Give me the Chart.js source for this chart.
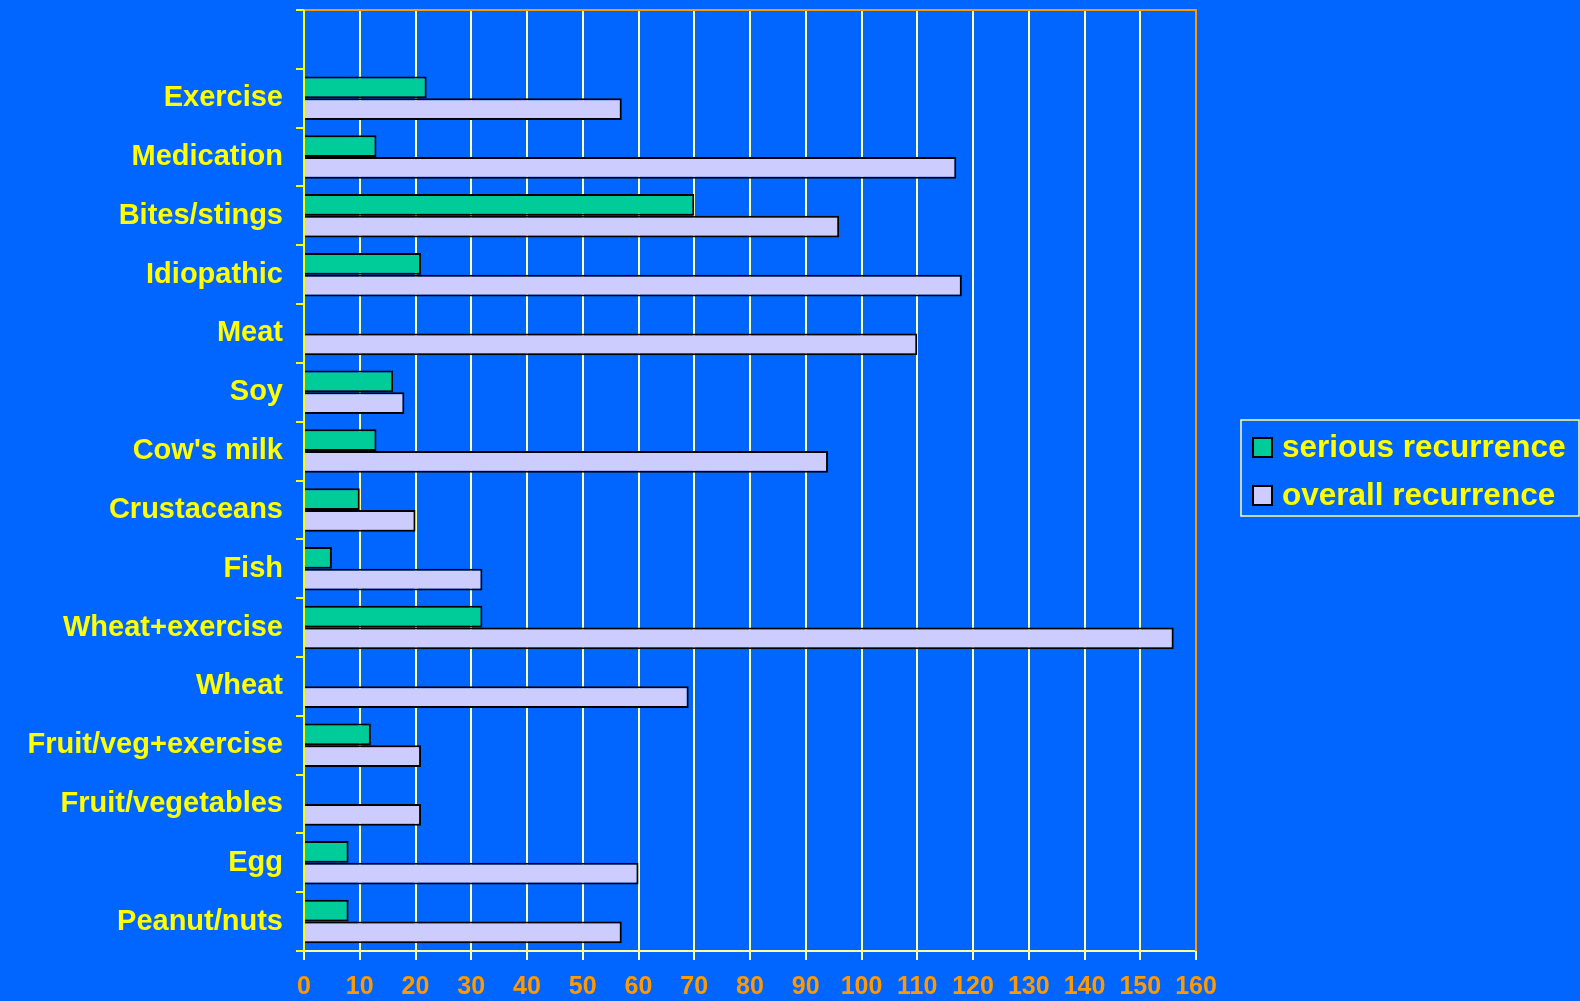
<!DOCTYPE html>
<html>
<head>
<meta charset="utf-8">
<title>Recurrence by trigger</title>
<script src="https://cdn.jsdelivr.net/npm/chart.js@4/dist/chart.umd.min.js"></script>
<style>
  html, body { margin: 0; padding: 0; background: #0066ff; }
  #wrap { width: 1580px; height: 1001px; position: relative; }
</style>
</head>
<body>
<div id="wrap"><canvas id="recurrenceChart"></canvas></div>
<script>
// categories top to bottom, first row is left empty
const triggers = ["", "Exercise", "Medication", "Bites/stings", "Idiopathic", "Meat", "Soy",
  "Cow's milk", "Crustaceans", "Fish", "Wheat+exercise", "Wheat", "Fruit/veg+exercise",
  "Fruit/vegetables", "Egg", "Peanut/nuts"];
const seriousRecurrence = [null, 22, 13, 70, 21, 0, 16, 13, 10, 5, 32, 0, 12, 0, 8, 8];
const overallRecurrence = [null, 57, 117, 96, 118, 110, 18, 94, 20, 32, 156, 69, 21, 21, 60, 57];
const xTicks = [0, 160, 10]; // min, max, step

const FONT = "'Liberation Sans', Arial, sans-serif";

// lines around the plot: yellow left axis, orange top and right edges
const frameLines = {
  id: "frameLines",
  afterDatasetsDraw(chart) {
    const a = chart.chartArea;
    const ctx = chart.ctx;
    ctx.save();
    ctx.lineWidth = 2;
    ctx.strokeStyle = "#ff9900";
    ctx.beginPath();
    ctx.moveTo(a.left, a.top);
    ctx.lineTo(a.right, a.top);
    ctx.lineTo(a.right, a.bottom);
    ctx.stroke();
    ctx.strokeStyle = "#ffff00";
    ctx.beginPath();
    ctx.moveTo(a.left, a.top);
    ctx.lineTo(a.left, a.bottom);
    ctx.stroke();
    ctx.restore();
  }
};

// boxed legend to the right of the plot
const boxLegend = {
  id: "boxLegend",
  afterDraw(chart) {
    const ctx = chart.ctx;
    const x = chart.chartArea.right + 45;
    const y = 420;
    ctx.save();
    ctx.strokeStyle = "#ffff99";
    ctx.lineWidth = 1.5;
    ctx.strokeRect(x, y, 338, 96);
    ctx.font = "bold 31.5px " + FONT;
    ctx.textBaseline = "middle";
    ctx.textAlign = "left";
    chart.data.datasets.forEach((ds, i) => {
      const rowY = y + 18 + i * 48;
      ctx.fillStyle = ds.backgroundColor;
      ctx.fillRect(x + 12, rowY, 19, 19);
      ctx.strokeStyle = "#000000";
      ctx.lineWidth = 2;
      ctx.strokeRect(x + 12, rowY, 19, 19);
      ctx.fillStyle = "#ffff00";
      ctx.fillText(ds.label, x + 41, rowY + 10);
    });
    ctx.restore();
  }
};

const ctx = document.getElementById("recurrenceChart").getContext("2d");
const myChart = new Chart(ctx, {
  type: "bar",
  data: {
    labels: triggers,
    datasets: [
      {
        label: "serious recurrence",
        data: seriousRecurrence,
        backgroundColor: "#00cc99",
        borderColor: "#000000",
        borderWidth: 2
      },
      {
        label: "overall recurrence",
        data: overallRecurrence,
        backgroundColor: "#ccccff",
        borderColor: "#000000",
        borderWidth: 2
      }
    ]
  },
  options: {
    indexAxis: "y",
    responsive: true,
    maintainAspectRatio: false,
    animation: false,
    categoryPercentage: 0.74,
    barPercentage: 1,
    layout: { padding: { top: 10, right: 384, left: 0, bottom: 0 } },
    plugins: {
      legend: { display: false },
      tooltip: { enabled: false }
    },
    scales: {
      x: {
        min: xTicks[0],
        max: xTicks[1],
        ticks: {
          stepSize: xTicks[2],
          color: "#ff9900",
          font: { family: FONT, size: 25, weight: "bold" },
          padding: 12,
          maxRotation: 0
        },
        grid: {
          color: "#ffff99",
          lineWidth: 2,
          tickLength: 9
        },
        border: { color: "#ffff99", width: 2 },
        afterFit(scale) { scale.height = 50; }
      },
      y: {
        ticks: {
          color: "#ffff00",
          font: { family: FONT, size: 29, weight: "bold" },
          padding: 13,
          autoSkip: false
        },
        grid: {
          drawOnChartArea: false,
          color: "#ffff00",
          lineWidth: 2,
          tickLength: 8
        },
        border: { color: "#ffff00", width: 2 },
        afterFit(scale) {
          scale.width = 304;
          scale.paddingTop = 0;
          scale.paddingBottom = 0;
        }
      }
    }
  },
  plugins: [frameLines, boxLegend]
});
</script>
</body>
</html>
